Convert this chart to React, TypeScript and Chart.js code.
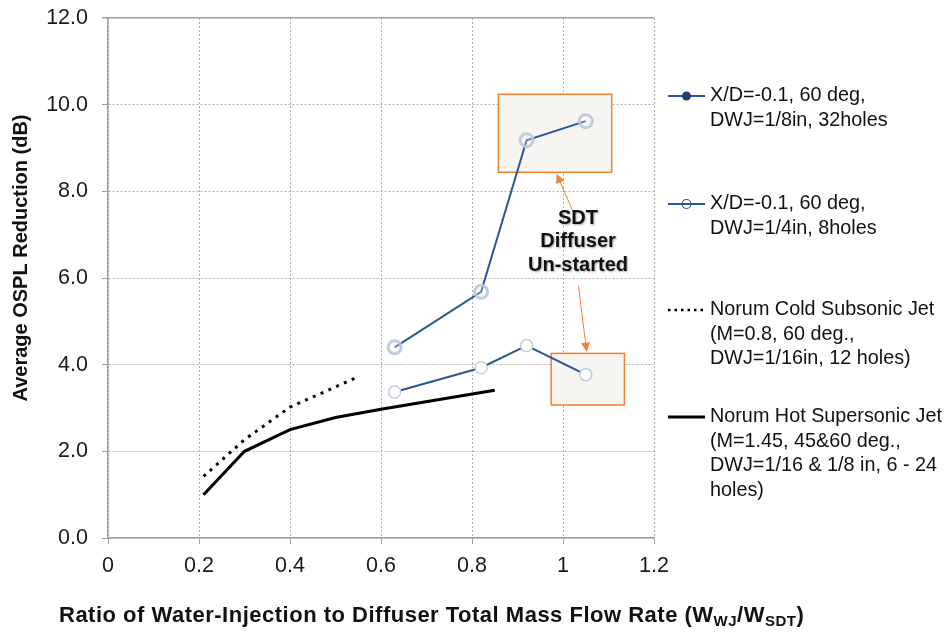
import React, { useEffect, useRef } from 'react';
import { Chart, registerables } from 'chart.js';

Chart.register(...registerables);

// ---------- data ----------
const xTicks = [0, 0.2, 0.4, 0.6, 0.8, 1.0, 1.2];
const xTickLabels = ['0', '0.2', '0.4', '0.6', '0.8', '1', '1.2'];
const yTicks = [0, 2, 4, 6, 8, 10, 12];
const yTickLabels = ['0.0', '2.0', '4.0', '6.0', '8.0', '10.0', '12.0'];

const xd32X = [0.63, 0.82, 0.92, 1.05];
const xd32Y = [4.4, 5.68, 9.18, 9.62];
const xd8X = [0.63, 0.82, 0.92, 1.05];
const xd8Y = [3.37, 3.93, 4.44, 3.77];
const coldX = [0.21, 0.3, 0.4, 0.55];
const coldY = [1.42, 2.27, 3.02, 3.72];
const hotX = [0.21, 0.3, 0.4, 0.5, 0.6, 0.85];
const hotY = [1.0, 2.0, 2.5, 2.78, 2.97, 3.41];

const legendLines = [
  ['X/D=-0.1, 60 deg,', 'DWJ=1/8in, 32holes'],
  ['X/D=-0.1, 60 deg,', 'DWJ=1/4in, 8holes'],
  ['Norum Cold Subsonic Jet', '(M=0.8, 60 deg.,', 'DWJ=1/16in, 12 holes)'],
  ['Norum Hot Supersonic Jet', '(M=1.45, 45&60 deg.,', 'DWJ=1/16 & 1/8 in, 6 - 24', 'holes)'],
];

const yTitle = 'Average OSPL Reduction (dB)';
const xTitleParts = [
  { t: 'Ratio of Water-Injection to Diffuser Total Mass Flow Rate (W', sub: false },
  { t: 'WJ', sub: true },
  { t: '/W', sub: false },
  { t: 'SDT', sub: true },
  { t: ')', sub: false },
];

const annotationLines = ['SDT', 'Diffuser', 'Un-started'];
const annotationAnchor = [1.033, 7.38];
const boxes = [
  { x0: 0.858, x1: 1.107, y0: 8.44, y1: 10.24 },
  { x0: 0.974, x1: 1.135, y0: 3.07, y1: 4.26 },
];
const arrows = [
  { from: [1.023, 7.51], to: [0.986, 8.4] },
  { from: [1.034, 5.82], to: [1.052, 4.3] },
];

const toPts = (xs: number[], ys: number[]) => xs.map((x, i) => ({ x, y: ys[i] }));

const FONT = '"Liberation Sans", Arial, sans-serif';
const BLUE = '#2b5797';
const ORANGE = '#f28132';

const px = (chart: any, x: number, y: number) => [
  chart.scales.x.getPixelForValue(x),
  chart.scales.y.getPixelForValue(y),
];

const decorPlugin = {
  id: 'decor',
  beforeDatasetsDraw(chart: any) {
    const ctx = chart.ctx;
    ctx.save();
    boxes.forEach((b) => {
      const [l, t] = px(chart, b.x0, b.y1);
      const [r, bt] = px(chart, b.x1, b.y0);
      ctx.fillStyle = '#f6f5f1';
      ctx.fillRect(l, t, r - l, bt - t);
      ctx.strokeStyle = ORANGE;
      ctx.lineWidth = 1.5;
      ctx.strokeRect(l, t, r - l, bt - t);
    });
    ctx.restore();
  },
  afterDatasetsDraw(chart: any) {
    const ctx = chart.ctx;
    ctx.save();
    arrows.forEach((a) => {
      const [x0, y0] = px(chart, a.from[0], a.from[1]);
      const [x1, y1] = px(chart, a.to[0], a.to[1]);
      const ang = Math.atan2(y1 - y0, x1 - x0);
      ctx.strokeStyle = ORANGE;
      ctx.fillStyle = ORANGE;
      ctx.lineWidth = 1;
      ctx.beginPath();
      ctx.moveTo(x0, y0);
      ctx.lineTo(x1 - Math.cos(ang) * 6, y1 - Math.sin(ang) * 6);
      ctx.stroke();
      const hl = 9, hw = 4.5;
      ctx.beginPath();
      ctx.moveTo(x1, y1);
      ctx.lineTo(x1 - hl * Math.cos(ang) + hw * Math.sin(ang), y1 - hl * Math.sin(ang) - hw * Math.cos(ang));
      ctx.lineTo(x1 - hl * Math.cos(ang) - hw * Math.sin(ang), y1 - hl * Math.sin(ang) + hw * Math.cos(ang));
      ctx.closePath();
      ctx.fill();
    });
    const [ax, ay] = px(chart, annotationAnchor[0], annotationAnchor[1]);
    ctx.font = `bold 20px ${FONT}`;
    ctx.textAlign = 'center';
    ctx.textBaseline = 'middle';
    ctx.shadowColor = 'rgba(0,0,0,0.35)';
    ctx.shadowBlur = 2;
    ctx.shadowOffsetX = 1;
    ctx.shadowOffsetY = 1;
    ctx.fillStyle = '#111';
    annotationLines.forEach((s, i) => ctx.fillText(s, ax, ay + i * 23.5));
    ctx.restore();
  },
  afterDraw(chart: any) {
    const ctx = chart.ctx;
    const area = chart.chartArea;
    ctx.save();
    // legend
    const lx0 = area.right + 14;
    const lx1 = lx0 + 37;
    const tx = lx1 + 5;
    const itemY = [96, 204, 310, 417];
    const lh = 24.5;
    itemY.forEach((y, k) => {
      ctx.save();
      ctx.beginPath();
      if (k === 0 || k === 1) {
        ctx.strokeStyle = BLUE;
        ctx.lineWidth = 2;
      } else if (k === 2) {
        ctx.strokeStyle = '#000';
        ctx.lineWidth = 2.5;
        ctx.setLineDash([2.5, 4]);
      } else {
        ctx.strokeStyle = '#000';
        ctx.lineWidth = 3;
      }
      ctx.moveTo(lx0, y);
      ctx.lineTo(lx1, y);
      ctx.stroke();
      ctx.setLineDash([]);
      const mx = (lx0 + lx1) / 2;
      if (k === 0) {
        ctx.beginPath();
        ctx.arc(mx, y, 4.5, 0, Math.PI * 2);
        ctx.fillStyle = '#1f3e70';
        ctx.fill();
      } else if (k === 1) {
        ctx.beginPath();
        ctx.arc(mx, y, 4.5, 0, Math.PI * 2);
        ctx.strokeStyle = BLUE;
        ctx.lineWidth = 1.2;
        ctx.stroke();
      }
      ctx.restore();
      ctx.font = `19.8px ${FONT}`;
      ctx.fillStyle = '#111';
      ctx.textAlign = 'left';
      ctx.textBaseline = 'middle';
      legendLines[k].forEach((s, i) => ctx.fillText(s, tx, y + i * lh));
    });
    // y title
    ctx.save();
    ctx.translate(21, 258);
    ctx.rotate(-Math.PI / 2);
    ctx.font = `bold 20px ${FONT}`;
    ctx.fillStyle = '#111';
    ctx.textAlign = 'center';
    ctx.textBaseline = 'middle';
    ctx.fillText(yTitle, 0, 0);
    ctx.restore();
    // x title with subscripts
    ctx.save();
    let x = 59;
    const yb = 615.5;
    ctx.fillStyle = '#111';
    ctx.textAlign = 'left';
    ctx.textBaseline = 'middle';
    (ctx as any).letterSpacing = '0.5px';
    xTitleParts.forEach((p) => {
      ctx.font = p.sub ? `bold 15px ${FONT}` : `bold 22px ${FONT}`;
      ctx.fillText(p.t, x, p.sub ? yb + 6 : yb);
      x += ctx.measureText(p.t).width;
    });
    ctx.restore();
    ctx.restore();
  },
};

export default function App() {
  const ref = useRef<HTMLCanvasElement | null>(null);
  useEffect(() => {
    if (!ref.current) return;
    const gridDash = (c: any) => (c.tick && c.tick.value === 12 ? [] : [2, 2]);
    const chart = new Chart(ref.current, {
      type: 'scatter',
      data: {
        datasets: [
          {
            label: legendLines[0].join(' '),
            data: toPts(xd32X, xd32Y),
            showLine: true,
            borderColor: BLUE,
            borderWidth: 2,
            pointRadius: 6.5,
            pointBorderWidth: 3,
            pointBorderColor: 'rgba(185,198,220,0.9)',
            pointBackgroundColor: 'rgba(255,255,255,0.25)',
          },
          {
            label: legendLines[1].join(' '),
            data: toPts(xd8X, xd8Y),
            showLine: true,
            borderColor: BLUE,
            borderWidth: 2,
            pointRadius: 6,
            pointBorderWidth: 1.5,
            pointBorderColor: '#c3cee0',
            pointBackgroundColor: '#ffffff',
          },
          {
            label: legendLines[2].join(' '),
            data: toPts(coldX, coldY),
            showLine: true,
            borderColor: '#000',
            borderWidth: 3,
            borderDash: [3, 5.5],
            pointRadius: 0,
          },
          {
            label: legendLines[3].join(' '),
            data: toPts(hotX, hotY),
            showLine: true,
            borderColor: '#000',
            borderWidth: 3,
            pointRadius: 0,
          },
        ],
      },
      options: {
        responsive: false,
        animation: false,
        events: [],
        layout: { padding: { left: 0, top: 18, right: 292, bottom: 0 } },
        plugins: { legend: { display: false }, tooltip: { enabled: false } },
        scales: {
          x: {
            type: 'linear',
            min: 0,
            max: 1.2,
            afterBuildTicks: (s: any) => {
              s.ticks = xTicks.map((v) => ({ value: v }));
            },
            afterFit: (s: any) => {
              s.height = 95;
              s.paddingLeft = 0;
              s.paddingRight = 0;
            },
            ticks: {
              callback: (v: any) => {
                const i = xTicks.findIndex((t) => Math.abs(t - v) < 1e-9);
                return i >= 0 ? xTickLabels[i] : '';
              },
              font: { family: FONT, size: 21.5 },
              color: '#1a1a1a',
              padding: 9,
              maxRotation: 0,
            },
            grid: { color: '#b0b0b0', lineWidth: 1, tickLength: 6, tickColor: '#a0a0a0' },
            border: { display: true, color: '#a0a0a0', width: 1.5, dash: [2, 2] },
          },
          y: {
            type: 'linear',
            min: 0,
            max: 12,
            afterBuildTicks: (s: any) => {
              s.ticks = yTicks.map((v) => ({ value: v }));
            },
            afterFit: (s: any) => {
              s.width = 108;
              s.paddingTop = 0;
              s.paddingBottom = 0;
            },
            ticks: {
              callback: (v: any) => {
                const i = yTicks.findIndex((t) => Math.abs(t - v) < 1e-9);
                return i >= 0 ? yTickLabels[i] : '';
              },
              font: { family: FONT, size: 21.5 },
              color: '#1a1a1a',
              padding: 14,
            },
            grid: {
              color: (c: any) => (c.tick && c.tick.value === 12 ? '#a0a0a0' : '#b0b0b0'),
              lineWidth: (c: any) => (c.tick && c.tick.value === 12 ? 1.5 : 1),
              tickLength: 6,
              tickColor: '#a0a0a0',
            },
            border: { display: true, color: '#a0a0a0', width: 1.5, dash: gridDash },
          },
        },
      },
      plugins: [decorPlugin],
    } as any);
    return () => chart.destroy();
  }, []);
  return (
    <div style={{ position: 'absolute', left: 0, top: 0, width: 946, height: 633, background: '#fff' }}>
      <canvas ref={ref} width={946} height={633} style={{ display: 'block' }} />
    </div>
  );
}
